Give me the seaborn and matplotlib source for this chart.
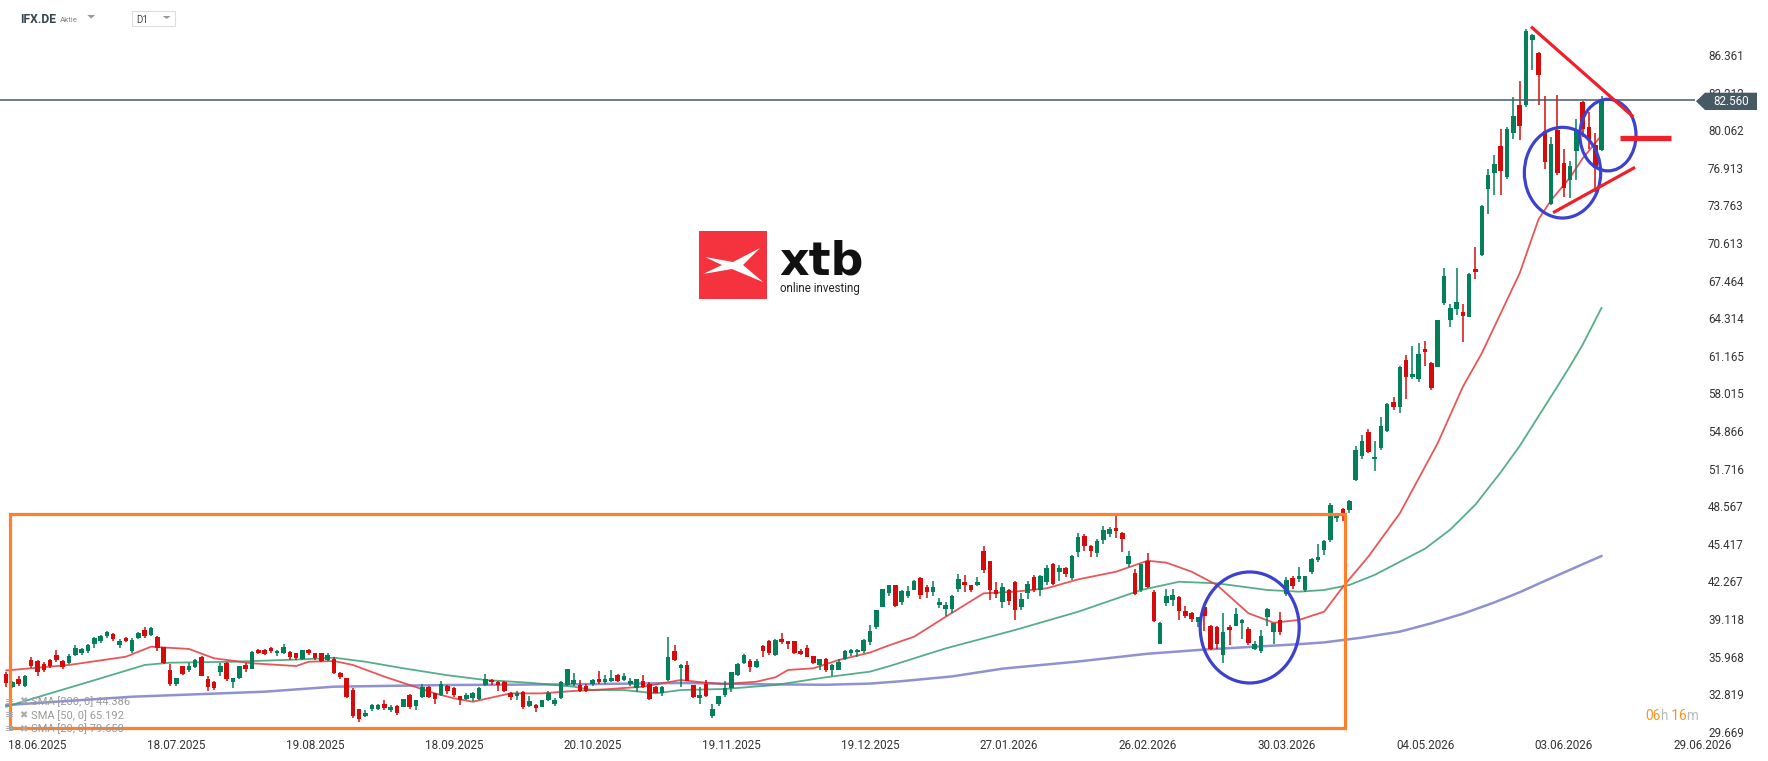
import numpy as np
import pandas as pd
import matplotlib
matplotlib.use("Agg")
import matplotlib.pyplot as plt
import seaborn as sns
from matplotlib.patches import Rectangle, Ellipse, Polygon
from matplotlib.transforms import blended_transform_factory

# ========== DATA ==========
# daily candles, IFX.DE, one entry per trading day (index 0 = 11.06.2025)
opens = [
    34.50, 33.40, 34.10, 33.50, 35.70, 35.60, 35.30, 35.65, 36.10, 35.60,
    35.40, 36.10, 36.25, 36.40, 37.00, 37.30, 37.65, 37.85, 36.95, 37.55,
    36.40, 37.50, 38.15, 37.80, 37.60, 36.75, 34.85, 33.70, 35.15, 34.85,
    35.10, 35.90, 34.10, 33.80, 34.70, 35.45, 33.80, 34.20, 35.25, 34.95,
    36.50, 36.50, 36.65, 36.25, 36.30, 36.35, 36.25, 35.75, 36.50, 36.25,
    36.25, 35.65, 35.80, 34.60, 34.15, 33.20, 31.55, 31.00, 31.55, 31.60,
    32.00, 31.45, 31.80, 31.75, 32.75, 31.80, 32.60, 33.45, 32.90, 32.75,
    33.50, 33.30, 32.65, 32.40, 32.50, 32.40, 33.60, 34.00, 33.85, 33.80,
    32.90, 32.65, 33.00, 31.80, 31.90, 31.75, 32.30, 32.00, 32.50, 33.60,
    33.65, 33.60, 33.50, 33.65, 34.10, 33.80, 33.90, 34.40, 34.00, 33.65,
    33.30, 33.90, 33.65, 33.45, 32.95, 34.00, 36.45, 35.00, 35.25, 33.60,
    32.50, 33.65, 31.00, 32.00, 32.75, 33.30, 34.40, 35.40, 35.60, 35.05,
    36.85, 37.25, 36.10, 37.40, 37.25, 37.25, 36.40, 36.65, 36.00, 35.25,
    35.75, 34.80, 34.85, 35.80, 36.25, 36.35, 36.45, 37.20, 38.40, 40.15,
    41.30, 41.95, 40.50, 41.05, 41.55, 42.55, 41.75, 41.40, 40.25, 39.95,
    39.95, 41.60, 42.20, 41.95, 41.95, 44.80, 43.95, 41.55, 40.50, 41.50,
    42.20, 40.15, 41.25, 42.65, 41.55, 42.25, 43.70, 43.05, 43.40, 42.55,
    44.75, 46.05, 45.25, 44.65, 45.70, 46.20, 46.75, 46.30, 43.70, 43.00,
    41.55, 43.95, 41.40, 37.05, 40.45, 40.70, 40.95, 39.80, 39.60, 38.90,
    40.10, 38.50, 38.40, 36.10, 38.45, 38.55, 38.80, 38.25, 36.60, 36.45,
    39.30, 38.05, 39.05, 41.20, 42.55, 42.45, 41.50, 43.05, 44.05, 44.90,
    45.75, 47.55, 48.30, 48.20, 50.75, 52.80, 54.75, 52.50, 53.45, 54.90,
    57.25, 56.90, 60.80, 59.35, 59.20, 61.75, 60.55, 60.25, 65.60, 64.20,
    65.05, 64.80, 64.45, 68.45, 69.60, 75.15, 76.50, 78.75, 76.15, 79.85,
    82.15, 82.15, 87.65, 86.55, 79.95, 73.90, 80.10, 77.30, 75.90, 78.35,
    82.45, 80.30, 78.80, 78.40,
]
highs = [
    34.70, 33.90, 34.30, 34.40, 35.90, 35.70, 35.50, 35.80, 36.50, 35.70,
    36.20, 36.90, 36.70, 37.00, 37.60, 37.80, 38.10, 37.90, 37.40, 37.60,
    37.50, 38.00, 38.40, 38.40, 37.70, 36.80, 35.30, 34.20, 35.20, 35.40,
    35.80, 36.00, 34.30, 33.90, 35.40, 35.50, 34.20, 35.20, 35.40, 36.40,
    36.60, 36.60, 36.80, 36.50, 37.00, 36.40, 36.30, 36.55, 36.60, 36.30,
    36.30, 36.30, 35.90, 34.70, 34.20, 33.30, 31.60, 31.50, 31.95, 32.00,
    32.30, 31.90, 31.90, 32.45, 32.80, 32.35, 33.70, 33.50, 32.90, 33.90,
    33.60, 33.40, 32.70, 32.90, 33.00, 33.40, 34.50, 34.10, 33.95, 33.90,
    33.00, 33.10, 33.10, 32.70, 32.00, 32.35, 33.10, 32.50, 33.90, 34.95,
    34.60, 34.00, 33.70, 34.10, 34.75, 34.40, 34.80, 34.50, 34.60, 34.20,
    34.10, 34.40, 33.80, 33.50, 33.50, 37.60, 36.90, 35.30, 35.60, 33.60,
    33.40, 34.00, 32.00, 32.70, 33.90, 34.70, 35.40, 36.15, 35.80, 35.80,
    36.90, 37.35, 37.40, 37.90, 37.30, 37.30, 36.60, 36.90, 36.05, 35.80,
    35.85, 35.30, 35.80, 36.50, 36.60, 36.60, 37.40, 38.60, 39.90, 41.65,
    42.00, 42.00, 41.50, 41.90, 42.40, 42.60, 42.00, 42.30, 40.90, 40.50,
    41.10, 42.90, 42.80, 42.00, 42.60, 45.20, 44.00, 42.20, 42.10, 41.60,
    42.30, 41.30, 42.30, 42.80, 42.80, 43.60, 43.80, 43.60, 43.50, 44.45,
    46.30, 46.20, 45.30, 45.80, 46.90, 46.80, 47.80, 46.40, 44.80, 43.30,
    43.75, 44.60, 41.50, 38.90, 41.60, 41.60, 41.00, 40.20, 39.70, 39.30,
    40.20, 38.60, 38.50, 39.60, 38.60, 40.00, 39.10, 38.40, 37.30, 38.20,
    40.00, 38.80, 39.70, 42.60, 42.70, 43.50, 42.75, 44.20, 45.40, 45.70,
    48.80, 48.00, 48.40, 49.10, 53.60, 54.50, 55.00, 54.00, 56.00, 57.20,
    57.70, 60.30, 61.20, 62.00, 62.20, 62.40, 60.60, 64.20, 68.50, 65.50,
    68.50, 65.50, 68.10, 70.30, 73.80, 76.80, 78.00, 80.20, 80.30, 82.80,
    84.20, 88.50, 88.10, 86.60, 82.90, 79.50, 83.00, 78.50, 77.50, 81.00,
    82.50, 81.60, 79.80, 82.90,
]
lows = [
    33.45, 33.30, 33.50, 33.40, 35.00, 34.30, 34.70, 35.00, 35.50, 34.90,
    35.30, 36.00, 36.10, 36.30, 36.70, 37.10, 37.50, 37.30, 36.70, 37.20,
    36.30, 37.40, 37.50, 37.70, 36.40, 35.30, 33.50, 33.50, 34.40, 34.70,
    35.00, 34.30, 33.10, 33.20, 34.30, 33.90, 33.30, 34.10, 34.70, 34.90,
    36.20, 36.10, 36.30, 36.00, 36.20, 35.70, 35.70, 35.70, 36.10, 35.70,
    35.50, 35.60, 34.50, 34.10, 32.50, 30.80, 30.50, 30.90, 31.40, 31.50,
    31.50, 31.30, 31.10, 31.70, 31.60, 31.50, 32.50, 32.50, 32.00, 32.70,
    32.80, 32.60, 31.90, 32.30, 32.20, 32.30, 33.50, 33.60, 33.10, 33.00,
    32.30, 32.30, 31.60, 31.70, 31.30, 31.70, 32.20, 31.80, 32.40, 33.50,
    33.50, 33.00, 33.00, 33.50, 33.70, 33.70, 33.80, 33.80, 33.90, 33.50,
    33.00, 33.30, 32.30, 32.90, 32.70, 33.90, 35.60, 33.45, 33.90, 32.50,
    32.00, 32.60, 30.80, 31.80, 32.60, 33.00, 34.30, 35.30, 34.70, 35.00,
    35.90, 36.10, 36.00, 37.00, 36.60, 36.20, 36.10, 35.90, 35.30, 34.80,
    34.70, 34.30, 34.80, 35.70, 36.00, 35.90, 36.30, 36.90, 38.30, 40.10,
    41.00, 40.10, 40.30, 40.90, 41.50, 40.80, 40.90, 41.00, 40.00, 39.40,
    39.60, 41.40, 41.40, 41.40, 41.90, 43.00, 40.70, 40.90, 40.00, 40.30,
    39.00, 39.90, 40.80, 41.40, 41.00, 42.00, 42.00, 42.30, 42.60, 42.40,
    44.30, 44.80, 44.30, 44.30, 45.40, 46.00, 45.90, 44.70, 43.50, 41.10,
    41.40, 41.70, 38.90, 37.00, 40.20, 40.20, 39.00, 39.20, 38.90, 38.40,
    38.10, 36.50, 36.60, 35.40, 36.90, 38.50, 37.40, 36.90, 36.50, 36.30,
    38.50, 37.00, 37.80, 41.00, 41.60, 42.20, 41.40, 42.90, 43.90, 44.50,
    45.60, 47.20, 47.30, 48.00, 50.70, 52.50, 53.00, 51.50, 53.30, 54.80,
    56.60, 56.40, 57.50, 59.20, 59.00, 60.30, 58.30, 60.20, 65.40, 63.60,
    64.60, 62.30, 64.40, 67.60, 69.50, 73.00, 74.60, 74.60, 76.00, 79.30,
    79.20, 82.00, 85.10, 82.20, 76.80, 73.80, 76.30, 74.50, 74.40, 75.90,
    79.50, 78.50, 74.90, 78.30,
]
closes = [
    33.75, 33.80, 33.70, 34.30, 35.20, 34.65, 34.85, 35.20, 35.70, 35.05,
    36.00, 36.65, 36.60, 36.90, 37.50, 37.70, 38.00, 37.45, 37.30, 37.30,
    37.35, 37.90, 37.65, 38.35, 36.65, 35.45, 33.70, 34.15, 34.50, 35.15,
    35.65, 34.35, 33.40, 33.30, 35.15, 34.05, 34.15, 35.15, 34.90, 36.35,
    36.30, 36.15, 36.40, 36.45, 36.80, 35.90, 35.85, 36.50, 36.25, 35.85,
    35.55, 36.10, 34.55, 34.25, 32.60, 31.00, 30.70, 31.25, 31.90, 31.90,
    31.65, 31.70, 31.25, 32.40, 31.75, 32.30, 33.45, 32.60, 32.45, 33.65,
    33.10, 32.75, 32.30, 32.75, 32.95, 33.35, 34.10, 33.80, 33.60, 33.10,
    32.60, 32.95, 31.70, 32.20, 31.65, 32.30, 32.95, 32.30, 33.85, 34.90,
    34.00, 33.10, 33.10, 34.00, 33.80, 34.10, 34.20, 33.90, 34.35, 33.95,
    34.05, 33.45, 32.40, 32.95, 33.45, 35.90, 35.70, 35.25, 33.95, 32.55,
    32.75, 32.70, 31.60, 32.65, 33.30, 34.65, 35.35, 36.10, 35.05, 35.60,
    36.45, 36.30, 37.35, 37.20, 37.00, 36.25, 36.15, 35.95, 35.45, 35.75,
    34.80, 35.25, 35.50, 36.45, 36.50, 36.55, 37.35, 38.10, 39.85, 41.60,
    41.95, 40.20, 41.45, 41.45, 42.30, 41.10, 41.40, 41.75, 40.50, 40.25,
    41.05, 42.45, 41.95, 41.55, 42.20, 43.20, 41.50, 41.20, 41.80, 40.65,
    39.85, 40.80, 42.05, 41.50, 42.70, 43.40, 42.05, 43.35, 42.85, 44.40,
    46.00, 45.25, 44.80, 45.65, 46.55, 46.65, 46.50, 45.80, 44.35, 41.20,
    43.70, 41.80, 38.95, 38.75, 41.05, 41.10, 39.80, 39.40, 39.15, 39.25,
    39.40, 36.60, 37.00, 38.00, 38.15, 39.55, 39.05, 37.10, 37.00, 37.70,
    39.95, 38.75, 38.05, 42.40, 41.90, 42.75, 42.70, 44.15, 44.30, 45.65,
    48.70, 47.75, 47.70, 49.00, 53.25, 54.00, 53.10, 52.65, 55.30, 57.10,
    56.90, 60.25, 59.35, 59.60, 61.35, 61.50, 58.50, 64.15, 67.85, 65.15,
    65.70, 64.50, 68.00, 68.15, 73.70, 76.30, 77.25, 76.65, 80.20, 81.25,
    80.40, 88.35, 88.05, 84.70, 77.40, 78.90, 76.45, 75.20, 77.05, 80.00,
    80.20, 79.20, 76.90, 82.56,
]

# moving averages (day index, value)
sma20_day = [0, 10, 19, 23, 29, 33, 39, 46, 48, 52, 55, 60, 64, 68, 71, 74, 80, 85,
             90, 95, 101, 107, 111, 114, 119, 122, 124, 128, 132, 137, 140, 144,
             149, 155, 160, 165, 170, 176, 181, 184, 188, 192, 197, 201, 205, 209,
             212, 216, 221, 227, 231, 234, 237, 240, 243, 245, 248, 250, 253]
sma20_val = [34.80, 35.26, 35.95, 36.79, 36.60, 35.82, 35.40, 35.17, 35.53, 35.59,
             35.26, 34.28, 33.58, 32.88, 32.47, 32.18, 32.88, 32.88, 33.08, 33.22,
             33.44, 34.00, 33.77, 33.66, 33.86, 34.23, 34.84, 34.98, 35.67, 36.30,
             36.90, 37.63, 39.30, 41.26, 41.40, 41.68, 42.43, 43.07, 43.99, 43.83,
             43.07, 41.96, 39.59, 38.80, 39.03, 39.72, 41.82, 44.33, 47.96, 53.83,
             58.57, 61.37, 64.72, 68.07, 72.60, 74.20, 76.10, 77.70, 79.65]
sma50_day = [0, 7, 15, 22, 26, 36, 47, 52, 57, 63, 70, 76, 83, 90, 93, 98, 103,
             107, 114, 122, 130, 137, 140, 149, 160, 170, 180, 186, 192, 200, 205,
             209, 213, 217, 221, 225, 229, 233, 237, 240, 243, 246, 248, 250, 253]
sma50_val = [31.76, 32.88, 34.14, 35.26, 35.45, 35.53, 35.73, 35.87, 35.53, 34.98,
             34.40, 34.00, 33.77, 33.44, 33.16, 33.16, 32.88, 33.16, 33.25, 33.58,
             34.23, 34.70, 35.15, 36.65, 38.19, 39.72, 41.54, 42.23, 42.10, 41.54,
             41.40, 41.54, 41.96, 42.80, 43.90, 45.00, 46.60, 48.70, 51.40, 53.60,
             56.10, 58.60, 60.30, 62.10, 65.19]
sma200_day = [0, 20, 41, 52, 70, 90, 107, 120, 130, 137, 142, 150, 158, 170, 181,
              190, 205, 209, 215, 221, 226, 231, 236, 240, 244, 247, 250, 253]
sma200_val = [31.90, 32.60, 33.02, 33.44, 33.58, 33.64, 33.75, 33.64, 33.60, 33.70,
              33.90, 34.30, 34.95, 35.55, 36.20, 36.55, 37.00, 37.15, 37.55, 38.05,
              38.75, 39.55, 40.50, 41.35, 42.30, 43.00, 43.70, 44.39]

sma_legend = ["SMA [200, 0] 44.386", "SMA [50, 0] 65.192", "SMA [20, 0] 79.650"]

price_ticks = [29.669, 32.819, 35.968, 39.118, 42.267, 45.417, 48.567, 51.716,
               54.866, 58.015, 61.165, 64.314, 67.464, 70.613, 73.763, 76.913,
               80.062, 83.212, 86.361]
date_ticks = [5, 27, 49, 71, 93, 115, 137, 159, 181, 203, 225, 247, 269]
date_labels = ["18.06.2025", "18.07.2025", "19.08.2025", "18.09.2025", "20.10.2025",
               "19.11.2025", "19.12.2025", "27.01.2026", "26.02.2026", "30.03.2026",
               "04.05.2026", "03.06.2026", "29.06.2026"]
last_price = 82.560

# drawn annotations (day index, price)
box_days, box_prices = (0.6, 212.3), (29.94, 47.94)
circle_centers = [(197.2, 38.4), (246.8, 76.5), (254.0, 79.65)]
circle_sizes = [(15.7, 9.3), (12.1, 7.6), (8.9, 6.0)]
upper_trend = ([241.8, 258.0], [88.73, 81.19])
lower_trend = ([245.3, 258.3], [73.15, 76.95])
target_line = ([255.9, 264.0], [79.38, 79.38])

assert len(opens) == len(highs) == len(lows) == len(closes)

# ========== STYLE ==========
UP, DOWN = "#03805a", "#d30b0b"
W, H = 1768, 761
PX = 138.75 / 22          # pixels per trading day on the reference

sns.set_theme(style="white")
plt.rcParams["font.family"] = ["Roboto", "DejaVu Sans"]


def fx(px):
    return px / W


def fy(py):
    return 1 - py / H


def price_at(py):
    return 29.669 + (731.7 - py) / 11.937


fig = plt.figure(figsize=(W / 100, H / 100), dpi=100)
fig.patch.set_facecolor("white")
AX_R, AX_B = 1695, 735
ax = fig.add_axes([0, fy(AX_B), AX_R / W, AX_B / H])
ax.set_facecolor("white")
ax.set_xlim(-6 / PX, (AX_R - 6) / PX)
ax.set_ylim(price_at(AX_B), price_at(0))
for s in ax.spines.values():
    s.set_visible(False)

# ========== CANDLES ==========
df = pd.DataFrame({"open": opens, "high": highs, "low": lows, "close": closes})
df["day"] = np.arange(len(df))
df["color"] = np.where(df["close"] >= df["open"], UP, DOWN)
body_lo = df[["open", "close"]].min(axis=1)
body_h = (df["close"] - df["open"]).abs().clip(lower=0.07)
ax.vlines(df["day"], df["low"], df["high"], colors=df["color"], linewidth=1.1, zorder=3)
ax.bar(df["day"], body_h, bottom=body_lo, width=0.72, color=df["color"],
       linewidth=0, zorder=4)

# ========== MOVING AVERAGES ==========
sns.lineplot(x=sma200_day, y=sma200_val, ax=ax, color="#7b7fc9", linewidth=1.8,
             alpha=0.85, sort=False, zorder=2)
sns.lineplot(x=sma50_day, y=sma50_val, ax=ax, color="#3a9f74", linewidth=1.3,
             alpha=0.85, sort=False, zorder=2)
sns.lineplot(x=sma20_day, y=sma20_val, ax=ax, color="#e5393b", linewidth=1.3,
             alpha=0.85, sort=False, zorder=2)

ax.axhline(last_price, color="#4a5a63", linewidth=1.1, zorder=5)

# ========== ANNOTATIONS ==========
ax.add_patch(Rectangle((box_days[0], box_prices[0]), box_days[1] - box_days[0],
                       box_prices[1] - box_prices[0], fill=False,
                       edgecolor="#ff7f2a", linewidth=2.3, zorder=6))
for (cx, cy), (cw, ch) in zip(circle_centers, circle_sizes):
    ax.add_patch(Ellipse((cx, cy), cw, ch, fill=False, edgecolor="#3c41cf",
                         linewidth=2.3, zorder=6))
ax.plot(*upper_trend, color="#ef2029", linewidth=2.3, solid_capstyle="butt", zorder=6)
ax.plot(*lower_trend, color="#ef2029", linewidth=2.3, solid_capstyle="butt", zorder=6)
ax.plot(*target_line, color="#ef2029", linewidth=3.8, solid_capstyle="butt", zorder=6)

# ========== AXES ==========
ax.yaxis.tick_right()
ax.set_yticks(price_ticks)
ax.set_yticklabels([f"{v:.3f}" for v in price_ticks])
ax.tick_params(axis="y", length=0, pad=9.4, labelsize=8.4, labelcolor="#333333")
ax.set_xticks([])
ax.grid(False)
trans = blended_transform_factory(ax.transData, ax.transAxes)
for d, lab in zip(date_ticks, date_labels):
    ax.text(d, -(745.5 - AX_B) / AX_B, lab, transform=trans, ha="center", va="center",
            fontsize=8.4, color="#333333", clip_on=False)

# current price tag
fig.patches.append(Polygon([(fx(1696), fy(101.3)), (fx(1705), fy(92.7)),
                            (fx(1757), fy(92.7)), (fx(1757), fy(110)),
                            (fx(1705), fy(110))], closed=True, facecolor="#455a64",
                           edgecolor="none", transform=fig.transFigure, zorder=5))
fig.text(fx(1731), fy(101.5), f"{last_price:.3f}", ha="center", va="center",
         fontsize=8.4, color="white", zorder=6)

# SMA legend, bottom left
for i, lab in enumerate(sma_legend):
    yy = fy(701.7 + 13.6 * i)
    fig.text(fx(5), yy, "≡", fontsize=8, color="#aaaaaa", va="center", zorder=1)
    fig.text(fx(19), yy, "✖", fontsize=7, color="#aaaaaa", va="center", zorder=1)
    fig.text(fx(31), yy, lab, fontsize=8, color="#999999", va="center", zorder=1)

# countdown, pieces placed one after another
renderer = fig.canvas.get_renderer()
x_px = 1645
for txt, col in [("06", "#f7941d"), ("h", "#bbbbbb"), (" 16", "#f7941d"), ("m", "#bbbbbb")]:
    t = fig.text(fx(x_px), fy(716), txt, fontsize=9.8, color=col, va="center", ha="left")
    x_px += t.get_window_extent(renderer).width

# header
fig.text(fx(20), fy(22.7), "IFX.DE", fontsize=8.7, fontweight="bold", color="#37474f",
         va="baseline")
fig.text(fx(60), fy(21.7), "Aktie", fontsize=5.8, color="#888888", va="baseline")
fig.patches.append(Polygon([(fx(87.3), fy(15)), (fx(95), fy(15)), (fx(91.2), fy(18.6))],
                           closed=True, facecolor="#999999", edgecolor="none",
                           transform=fig.transFigure))
fig.patches.append(Rectangle((fx(131.7), fy(26)), (175 - 131.7) / W, 15 / H,
                             facecolor="white", edgecolor="#dddddd", linewidth=0.8,
                             transform=fig.transFigure))
fig.text(fx(136.7), fy(22.7), "D1", fontsize=7, color="#444444", va="baseline")
fig.patches.append(Polygon([(fx(162.7), fy(16)), (fx(170.7), fy(16)), (fx(166.7), fy(19))],
                           closed=True, facecolor="#999999", edgecolor="none",
                           transform=fig.transFigure))

# xtb logo
fig.patches.append(Rectangle((fx(699), fy(299)), 68 / W, 68 / H, facecolor="#f5333f",
                             edgecolor="none", transform=fig.transFigure, zorder=2))
mark = [(705, 257), (733, 262), (760, 248), (743, 265), (763, 282), (732, 269),
        (703, 274), (722, 265)]
fig.patches.append(Polygon([(fx(a), fy(b)) for a, b in mark], closed=True,
                           facecolor="white", edgecolor="none",
                           transform=fig.transFigure, zorder=3))
fig.text(fx(779), fy(275), "xtb", fontsize=33, fontweight="bold", color="#111111",
         family="DejaVu Sans", va="baseline")
fig.text(fx(780), fy(292.5), "online investing", fontsize=8.3, color="#222222",
         va="baseline")

fig.savefig("out.png", dpi=100)
